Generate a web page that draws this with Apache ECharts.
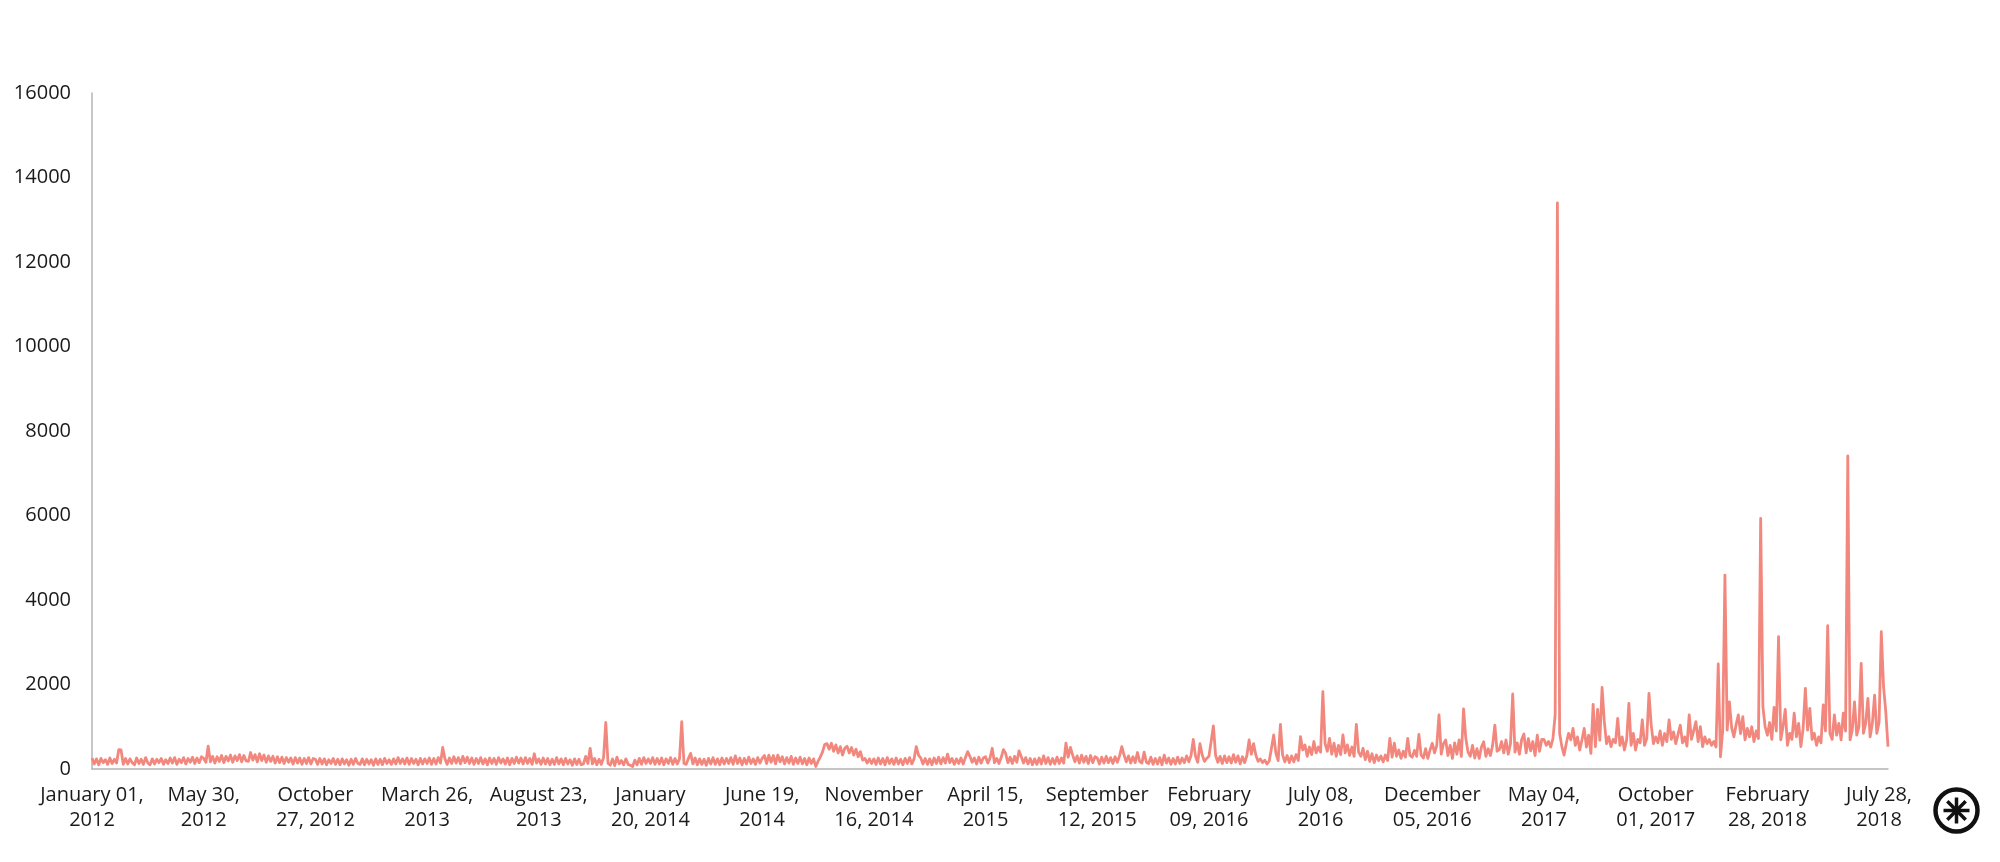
<!DOCTYPE html>
<html>
<head>
<meta charset="utf-8">
<script src="https://cdn.jsdelivr.net/npm/echarts@6/dist/echarts.min.js"></script>
<style>
  html, body { margin: 0; padding: 0; background: #fff; }
  #main { width: 2000px; height: 862px; }
</style>
</head>
<body>
<div id="main"></div>
<script>
// one value every 3 days, starting January 01, 2012; 50 values per tick (150 days)
var startDate = new Date(Date.UTC(2012, 0, 1));
var stepDays = 3;

var seg2012a = [260,120,240,100,250,150,220,110,260,130,230,140,460,450,110,250,120,240,150,100,260,130,230,110,270,140,100,240,120,230,150,250,110,220,130,260,140,270,110,230,150,270,120,250,160,280,130,260,150,290];
var seg2012b = [250,160,540,170,300,140,290,180,320,150,300,190,330,160,310,200,340,170,320,190,180,390,210,340,170,360,200,330,160,310,180,300,140,290,150,280,130,270,160,260,120,270,140,260,110,250,130,270,120,250];
var seg2012c = [230,110,250,120,240,100,220,130,250,110,230,100,240,120,220,90,230,110,250,130,110,240,100,230,120,220,90,240,110,230,100,250,130,220,110,240,120,270,130,240,120,260,110,250,130,230,100,250,120,240];
var seg2013a = [130,260,110,250,120,270,140,510,240,110,260,130,290,140,270,120,300,150,280,130,260,110,250,130,270,120,240,100,260,130,250,110,270,140,240,120,260,100,250,130,280,140,260,120,270,130,250,110,360,140];
var seg2013b = [240,110,260,120,250,100,230,110,270,120,240,100,250,120,220,90,240,110,230,100,120,300,130,490,120,250,100,230,110,270,1100,130,90,240,80,280,120,200,100,240,110,90,60,210,100,250,110,270,130,240];
var seg2014a = [130,270,110,250,120,260,100,240,130,270,110,250,120,240,1120,130,110,250,370,120,260,100,240,110,230,90,250,120,270,110,240,100,260,120,250,130,270,110,310,130,260,100,250,120,280,130,240,110,270,140];
var seg2014b = [250,320,130,330,160,320,120,330,170,290,120,270,140,300,110,260,130,280,120,250,100,260,130,240,60,180,280,400,580,600,470,610,420,570,380,530,330,490,540,380,510,330,470,290,410,210,250,140,240,130];
var seg2014c = [240,110,260,120,250,100,270,130,240,110,260,120,230,100,250,130,270,120,240,530,330,260,120,250,110,240,100,260,130,280,120,270,140,350,150,250,110,240,130,260,120,270,410,300,160,260,120,280,140,260];
var seg2015a = [290,140,260,490,150,250,130,270,460,370,150,280,130,300,160,430,290,140,270,120,250,100,240,110,260,120,310,130,270,110,250,120,280,130,260,140,610,280,510,330,170,310,140,330,160,300,130,320,150,290];
var seg2015b = [260,120,280,140,300,150,270,130,290,160,310,530,330,170,310,140,290,150,390,180,140,400,160,130,280,110,250,120,270,100,330,140,260,110,250,120,280,130,260,150,310,170,320,700,300,160,600,330,180,250];
var seg2016a = [300,650,1020,320,160,300,130,310,150,290,140,340,160,310,120,290,150,320,690,350,600,330,180,240,150,210,120,190,490,805,370,200,1057,330,170,320,150,310,170,340,200,765,450,570,300,520,340,650,380,520];
var seg2016b = [400,1830,600,420,725,350,610,300,560,340,805,380,570,320,520,300,1057,400,300,490,220,420,180,360,150,330,200,310,170,330,200,725,280,610,300,450,250,420,280,725,320,280,440,300,820,330,260,480,250,450];
var seg2017a = [610,380,560,1280,350,600,690,320,560,250,620,350,690,300,1420,725,400,300,560,260,480,250,520,645,300,480,320,560,1040,420,460,650,380,690,350,600,1775,400,620,350,700,830,380,720,430,650,320,800,420,700];
var seg2017b = [700,560,650,520,720,1280,13400,845,530,330,610,845,690,960,560,760,450,690,960,520,800,370,1530,530,1410,680,1930,1120,600,765,530,700,620,1200,560,760,450,690,1554,560,845,450,700,620,1160,560,720,1790,1040,600];
var seg2017c = [760,620,900,560,840,650,1160,700,880,600,820,1040,620,760,540,1280,700,900,1120,650,1000,530,760,600,700,560,650,520,2485,290,900,4590,920,1590,980,760,1050,1280,840,1240,690,960,760,1000,650,900,720,5930,1475,1000];
var seg2018a = [800,1100,700,1460,900,3130,690,1000,1410,560,845,700,1320,760,1080,530,960,1910,920,1435,700,845,560,760,620,1515,900,3390,840,700,1280,800,1080,690,1320,900,7410,690,920,1590,800,1000,2500,845,1080,1670,760,1080,1750,845];
var seg2018b = [1100,3250,1950,1360,530];

var values = [].concat(seg2012a, seg2012b, seg2012c, seg2013a, seg2013b, seg2014a,
  seg2014b, seg2014c, seg2015a, seg2015b, seg2016a, seg2016b, seg2017a, seg2017b,
  seg2017c, seg2018a, seg2018b);

var tickLabels = [
  'January 01,\n2012', 'May 30,\n2012', 'October\n27, 2012', 'March 26,\n2013',
  'August 23,\n2013', 'January\n20, 2014', 'June 19,\n2014', 'November\n16, 2014',
  'April 15,\n2015', 'September\n12, 2015', 'February\n09, 2016', 'July 08,\n2016',
  'December\n05, 2016', 'May 04,\n2017', 'October\n01, 2017', 'February\n28, 2018',
  'July 28,\n2018'
];
var pointsPerTick = 50;

var dates = values.map(function (v, i) {
  var d = new Date(startDate.getTime() + i * stepDays * 86400000);
  return d.toISOString().slice(0, 10);
});

var lineColor = '#f2877d';
var axisColor = '#b4b4b4';
var textColor = '#1a1a1a';
var fontFamily = '"Open Sans", Lato, sans-serif';

var myChart = echarts.init(document.getElementById('main'));

var option = {
  backgroundColor: '#ffffff',
  animation: false,
  grid: {
    left: 92,
    right: 112,
    top: 93,
    bottom: 93
  },
  xAxis: {
    type: 'category',
    data: dates,
    boundaryGap: false,
    axisLine: { lineStyle: { color: axisColor, width: 1.5 } },
    axisTick: { show: false },
    axisLabel: {
      interval: pointsPerTick - 1,
      margin: 14,
      color: textColor,
      fontSize: 20,
      fontFamily: fontFamily,
      lineHeight: 25,
      align: 'center',
      formatter: function (value, index) {
        return tickLabels[Math.round(index / pointsPerTick)] || '';
      }
    },
    splitLine: { show: false }
  },
  yAxis: {
    type: 'value',
    min: 0,
    max: 16000,
    interval: 2000,
    axisLine: { show: true, lineStyle: { color: axisColor, width: 1.5 } },
    axisTick: { show: false },
    axisLabel: {
      margin: 21,
      color: textColor,
      fontSize: 20,
      fontFamily: fontFamily,
      formatter: function (v) { return String(v); }
    },
    splitLine: { show: false }
  },
  series: [
    {
      type: 'line',
      data: values,
      showSymbol: false,
      symbol: 'none',
      sampling: null,
      lineStyle: { color: lineColor, width: 2.8, join: 'round' }
    }
  ],
  graphic: [
    {
      type: 'group',
      left: 1933,
      top: 787,
      children: [
        { type: 'circle', shape: { cx: 24, cy: 24, r: 21 }, style: { fill: 'none', stroke: '#111', lineWidth: 4.5 } },
        { type: 'line', shape: { x1: 24, y1: 11, x2: 24, y2: 37 }, style: { stroke: '#111', lineWidth: 3.5 } },
        { type: 'line', shape: { x1: 11, y1: 24, x2: 37, y2: 24 }, style: { stroke: '#111', lineWidth: 3.5 } },
        { type: 'line', shape: { x1: 14.8, y1: 14.8, x2: 33.2, y2: 33.2 }, style: { stroke: '#111', lineWidth: 3.5 } },
        { type: 'line', shape: { x1: 33.2, y1: 14.8, x2: 14.8, y2: 33.2 }, style: { stroke: '#111', lineWidth: 3.5 } }
      ]
    }
  ]
};

myChart.setOption(option);
</script>
</body>
</html>
